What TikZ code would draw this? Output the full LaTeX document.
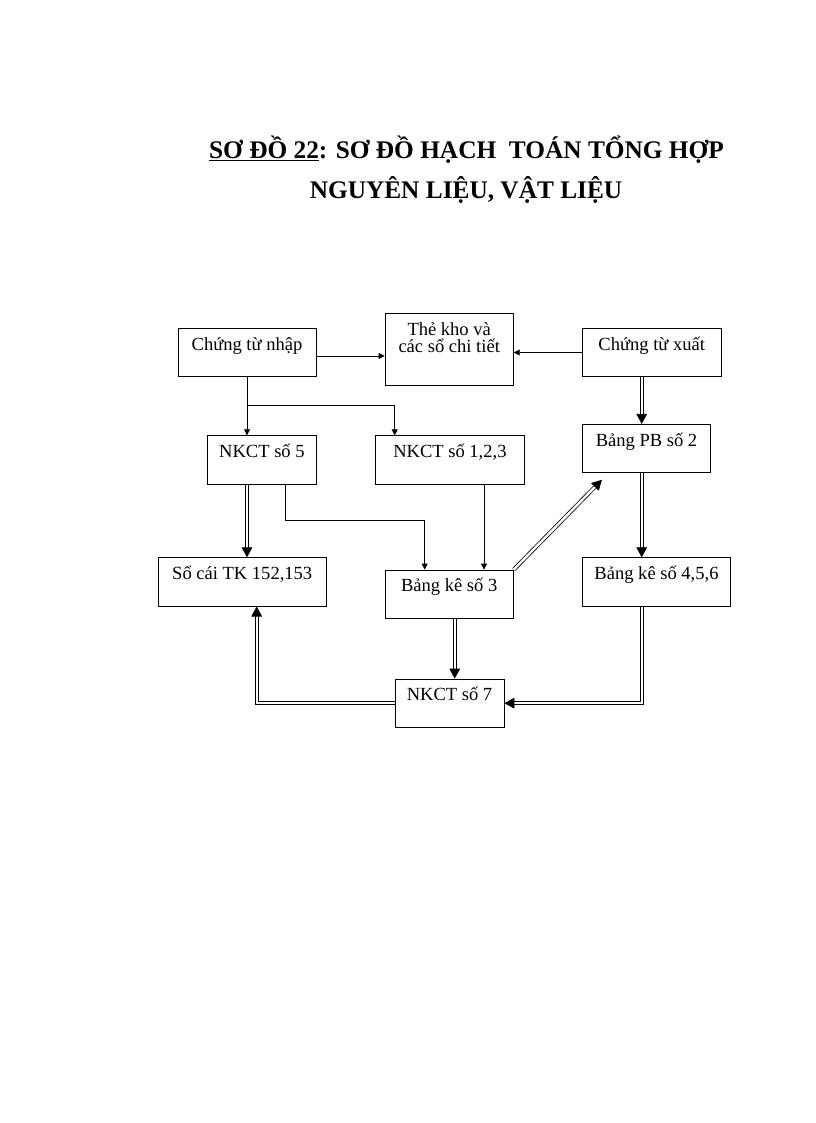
\documentclass[tikz,border=0pt]{standalone}
\usepackage{fontspec}
\setmainfont{Liberation Serif}
\usetikzlibrary{arrows.meta}

\begin{document}
\begin{tikzpicture}[x=0.75pt,y=-0.75pt,
    box/.style={draw, line width=0.6pt, inner sep=0pt, minimum height=36.3pt,
        text height=16.3pt, text depth=20pt, align=center,
        font=\fontsize{13.9}{13}\selectfont},
    arr/.style={line width=0.6pt, -{Triangle[length=4.5pt,width=4.5pt]}},
    dbl/.style={double, double distance=1.8pt, line width=0.6pt,
        -{Triangle[length=7.5pt,width=8pt]}},
    heading/.style={anchor=base, inner sep=0pt, font=\bfseries\fontsize{19}{22}\selectfont}]
    \useasboundingbox (0,0) rectangle (816,1123);
    % title
    \node[heading] (title1) at (466.5,158.3) {\underline{SƠ ĐỒ 22}: SƠ ĐỒ HẠCH\ \ TOÁN TỔNG HỢP};
    \node[heading] (title2) at (466,198.3) {NGUYÊN LIỆU, VẬT LIỆU};
    % boxes
    \node[box, minimum width=103.5pt] (nhap) at (247,352.5) {Chứng từ nhập};
    \node[box, minimum width=96.2pt, minimum height=54.3pt, text height=29.3pt, text depth=25pt] (thekho) at (449.2,349.5) {Thẻ kho và\\các sổ chi tiết};
    \node[box, minimum width=104pt] (xuat) at (651.7,352.5) {Chứng từ xuất};
    \node[box, minimum width=81.2pt] (nkct5) at (261.9,459.9) {NKCT số 5};
    \node[box, minimum width=111.2pt] (nkct123) at (449.9,459.9) {NKCT số 1,2,3};
    \node[box, minimum width=96.3pt] (pb2) at (646.5,448.5) {Bảng PB số 2};
    \node[box, minimum width=125.8pt] (socai) at (242.2,581.9) {Sổ cái TK 152,153};
    \node[box, minimum width=96.2pt] (bk3) at (449.2,594.2) {Bảng kê số 3};
    \node[box, minimum width=111.3pt] (bk456) at (656.5,581.9) {Bảng kê số 4,5,6};
    \node[box, minimum width=81.75pt] (nkct7) at (449.5,703.2) {NKCT số 7};
    % columns
    \coordinate (colL) at (247,0);
    \coordinate (colA) at (285.7,520.7);
    \coordinate (colB) at (484,0);
    \coordinate (colM) at (454.7,0);
    \coordinate (colR) at (641.7,0);
    \coordinate (colS) at (256.7,0);
    \coordinate (fork) at (247,405);
    % single arrows
    \draw[arr] ([yshift=-2.6pt]nhap.east) -- ([yshift=-2.6pt]nhap.east -| thekho.west);
    \draw[arr] (xuat.west) -- (xuat.west -| thekho.east);
    \draw[arr] (nhap.south) -- (nhap.south |- nkct5.north);
    \draw[arr] (fork) -| ([xshift=14.5pt]nkct123.north west);
    \draw[arr] (colA |- nkct5.south) -- (colA) -| ([xshift=30pt]bk3.north west);
    \draw[arr] (colB |- nkct123.south) -- (colB |- bk3.north);
    % double arrows
    \draw[dbl] (colR |- xuat.south) -- (colR |- pb2.north);
    \draw[dbl] (colR |- pb2.south) -- (colR |- bk456.north);
    \draw[dbl] (colL |- nkct5.south) -- (colL |- socai.north);
    \draw[dbl] (bk3.north east) -- ([xshift=15pt,yshift=-5pt]pb2.south west);
    \draw[dbl] (colM |- bk3.south) -- (colM |- nkct7.north);
    \draw[dbl] (colR |- bk456.south) |- (nkct7.east);
    \draw[dbl] (nkct7.west) -| (colS |- socai.south);
\end{tikzpicture}
\end{document}
